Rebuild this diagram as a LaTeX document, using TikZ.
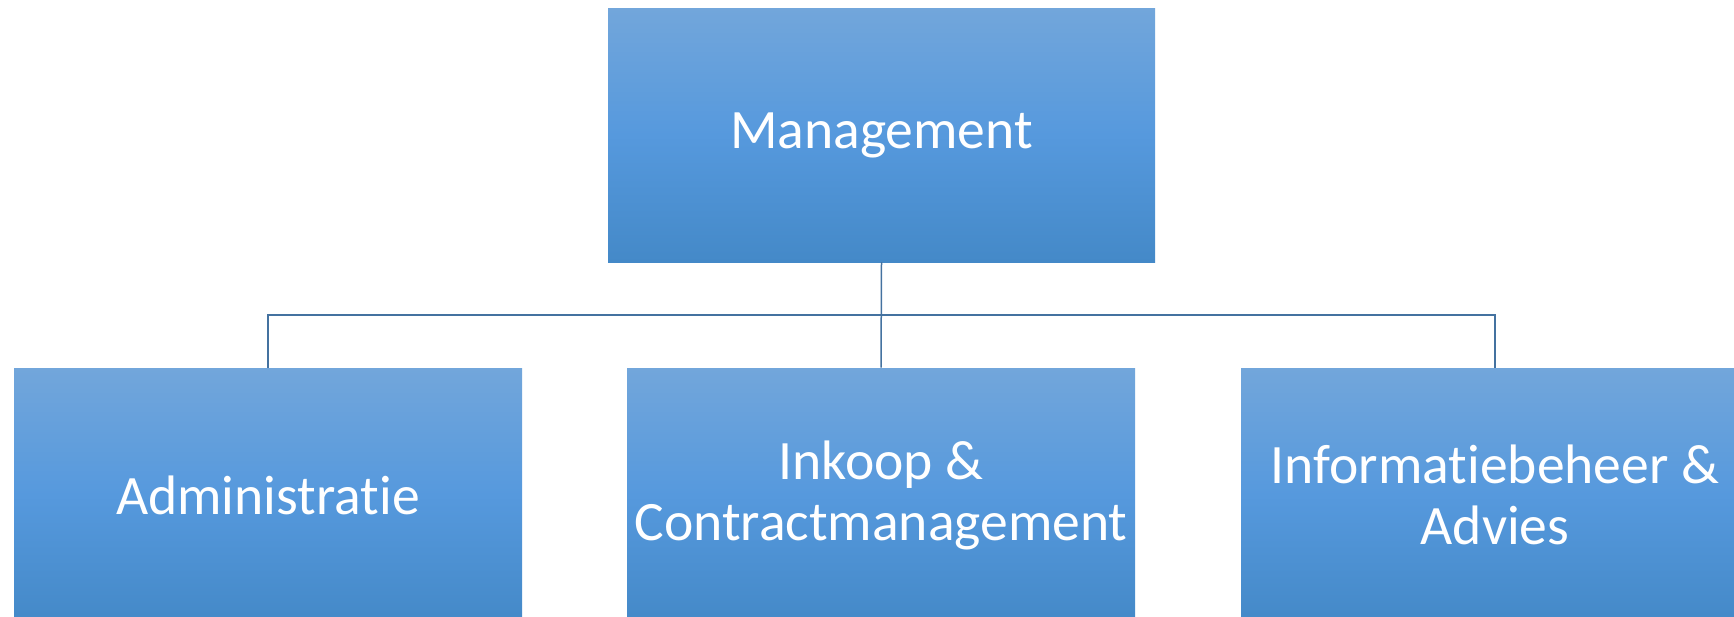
\documentclass[tikz,border=0pt]{standalone}
\usepackage{fontspec}
\setmainfont[Ligatures={NoCommon}]{Carlito}
\definecolor{btop}{RGB}{114,166,219}
\definecolor{bmid}{RGB}{86,153,221}
\definecolor{bbot}{RGB}{68,137,200}
\definecolor{conncol}{RGB}{68,114,160}
\tikzset{
  orgbox/.style={rectangle, inner sep=0pt, draw=none,
    top color=btop, bottom color=bbot, middle color=bmid,
    text=white, align=center,
    font=\fontsize{27.8pt}{30.5pt}\selectfont},
  topbox/.style={orgbox, minimum width=273.5pt, minimum height=127pt},
  subbox/.style={orgbox, minimum width=254pt, minimum height=127pt},
  conn/.style={draw=conncol, line width=0.75pt}
}
\begin{document}
\begin{tikzpicture}[x=1pt,y=1pt]
\useasboundingbox (0,0) rectangle (867,-308);
\clip (0,0) rectangle (867,-308);
\node[topbox] (m) at (440.75,-67.5) {Management};
\node[subbox] (a) at (134,-247.5) {Administratie};
\node[subbox] (c) at (440.5,-247.5) {Inkoop \&\\Contractmanagement};
\node[subbox] (i) at (747.5,-247.5) {Informatiebeheer \&\\Advies};
\coordinate (bus) at (0,-157.5);
\draw[conn] (m.south) -- (m.south|-bus) -| (a.north);
\draw[conn] (m.south|-bus) -| (i.north);
\draw[conn] (m.south) -- (c.north);
\end{tikzpicture}
\end{document}
